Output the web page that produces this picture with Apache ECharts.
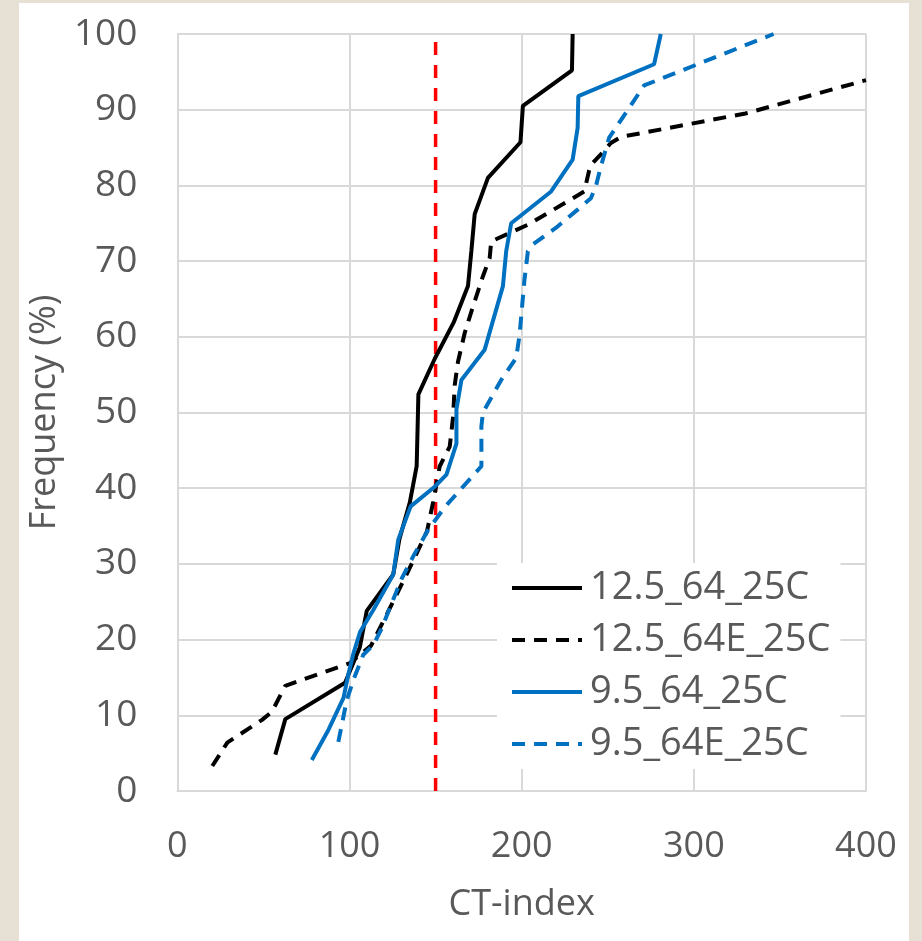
<!DOCTYPE html>
<html>
<head>
<meta charset="utf-8">
<script src="https://cdn.jsdelivr.net/npm/echarts@6/dist/echarts.min.js"></script>
<style>
  html, body { margin: 0; padding: 0; background: #e6e0d5; }
  #chart {
    position: absolute;
    left: 19px;
    top: 3px;
    width: 890px;
    height: 938px;
    background: #fff;
  }
</style>
</head>
<body>
<div id="chart"></div>
<script>
// series names (legend order)
var seriesNames = ["12.5_64_25C", "12.5_64E_25C", "9.5_64_25C", "9.5_64E_25C"];

// [CT-index, frequency %]
var s125 = [[56.9, 4.8], [62.7, 9.5], [97.4, 14.3], [106, 19], [110, 23.8], [125.4, 28.6], [129, 33.3],
  [135, 38.1], [139, 42.9], [139.5, 47.6], [140, 52.4], [149.5, 57.1], [160.5, 61.9], [168.8, 66.7],
  [170.8, 71.4], [172.7, 76.2], [180.4, 81], [199.3, 85.7], [200.7, 90.5], [229.2, 95.2], [229.6, 100]];

var s125E = [[20.3, 3.3], [29, 6.4], [49.2, 9.4], [55, 10.5], [62.7, 13.9], [100.3, 16.9], [112.5, 19.2],
  [122, 23.5], [134, 29], [145, 34.3], [148.6, 38.2], [152.4, 42.9], [158.2, 45.5], [160.2, 49.5],
  [161.1, 53.6], [163, 56.7], [166.9, 60.5], [171.7, 64], [177.5, 68], [181.4, 70.4], [182.3, 72.6],
  [203.6, 74.8], [217, 76.6], [236.4, 79.2], [239.2, 82], [240.2, 82.7], [246, 84.1], [251.8, 85.6],
  [257.6, 86.4], [330, 89.5], [400, 93.9]];

var s95 = [[78.1, 4.1], [87.8, 8.1], [96.5, 12.3], [99.4, 15.5], [102.3, 18.2], [106.1, 21], [113.8, 23.9],
  [125.4, 28.6], [128.3, 33.2], [135.5, 37.6], [149.5, 40.2], [156.3, 41.8], [162.1, 45.9], [162.1, 50.4],
  [165, 54.3], [178.5, 58.3], [189.1, 66.7], [191, 71.3], [193.9, 75], [217.1, 79.2], [229.6, 83.4],
  [232.5, 87.6], [232.9, 91.8], [276.9, 96], [280.8, 100]];

var s95E = [[93.5, 6.5], [98.4, 12], [102.3, 14.7], [108, 18], [113.9, 19.3], [118.7, 21.5], [124.5, 24.8],
  [130.2, 28], [137, 31], [145.7, 34.5], [155.3, 37.5], [169.5, 41.1], [176.6, 42.9], [176.6, 48.2],
  [177.5, 50], [188.1, 54.3], [196.8, 57.2], [198.8, 60.3], [201.6, 67.5], [203.6, 71.3], [206.5, 72.2],
  [221, 74.6], [232.5, 76.8], [240.2, 78.3], [243.1, 79.9], [246, 82.5], [250.8, 86.3], [271.1, 93.2],
  [346.3, 100]];

// reference CT-index line
var refLine = [[150, 0], [150, 100]];

var xTicks = [0, 100, 200, 300, 400];
var yTicks = [0, 10, 20, 30, 40, 50, 60, 70, 80, 90, 100];

var font = "'Open Sans', 'Noto Sans', sans-serif";
var gray = "#595959";
var gridColor = "#d9d9d9";

var myChart = echarts.init(document.getElementById("chart"));

function lineSeries(name, data, color, dashed) {
  return {
    name: name,
    type: "line",
    data: data,
    symbol: "none",
    animation: false,
    lineStyle: {
      color: color,
      width: 4,
      type: dashed ? [13, 9] : "solid",
      cap: "butt"
    },
    itemStyle: { color: color },
    emphasis: { disabled: true }
  };
}

myChart.setOption({
  animation: false,
  textStyle: { fontFamily: font },
  grid: {
    left: 156,
    right: 43,
    top: 31,
    bottom: 150
  },
  legend: {
    data: seriesNames,
    orient: "vertical",
    left: 478,
    top: 560,
    backgroundColor: "#fff",
    padding: [5, 10, 5, 13],
    itemWidth: 70,
    itemHeight: 14,
    itemGap: 12,
    itemStyle: { opacity: 0 },
    lineStyle: { width: 4 },
    textStyle: {
      fontFamily: font,
      fontSize: 38,
      color: gray,
      lineHeight: 40,
      padding: [0, 0, 0, 3]
    }
  },
  xAxis: {
    type: "value",
    min: xTicks[0],
    max: xTicks[xTicks.length - 1],
    interval: 100,
    name: "CT-index",
    nameLocation: "middle",
    nameGap: 96,
    nameTextStyle: { fontFamily: font, fontSize: 36, color: gray },
    axisLine: { show: true, lineStyle: { color: gridColor, width: 2 } },
    axisTick: { show: false },
    axisLabel: { fontFamily: font, fontSize: 36, color: gray, margin: 38 },
    splitLine: { show: true, lineStyle: { color: gridColor, width: 2 } }
  },
  yAxis: {
    type: "value",
    min: yTicks[0],
    max: yTicks[yTicks.length - 1],
    interval: 10,
    name: "Frequency (%)",
    nameLocation: "middle",
    nameGap: 100,
    nameTextStyle: { fontFamily: font, fontSize: 36, color: gray },
    axisLine: { show: true, lineStyle: { color: gridColor, width: 2 } },
    axisTick: { show: false },
    axisLabel: { fontFamily: font, fontSize: 37, color: gray, margin: 40 },
    splitLine: { show: true, lineStyle: { color: gridColor, width: 2 } }
  },
  series: [
    {
      name: "ref",
      type: "line",
      data: refLine,
      symbol: "none",
      lineStyle: { color: "#ff0000", width: 3.5, type: [13, 10] }
    },
    lineSeries(seriesNames[0], s125, "#000000", false),
    lineSeries(seriesNames[1], s125E, "#000000", true),
    lineSeries(seriesNames[2], s95, "#0070c0", false),
    lineSeries(seriesNames[3], s95E, "#0070c0", true)
  ]
});
</script>
</body>
</html>
